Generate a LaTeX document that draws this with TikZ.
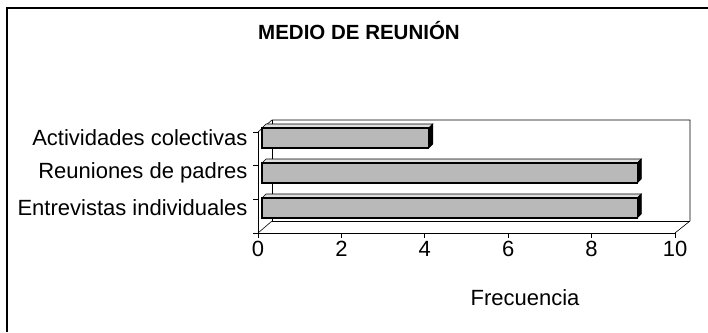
\documentclass[tikz,border=0pt]{standalone}
\usepackage{fontspec}
\setmainfont{Liberation Sans}
\usetikzlibrary{positioning}

\begin{document}
\begin{tikzpicture}[
    x=1pt, y=-1pt,
    axisline/.style={draw=black, line width=0.9pt},
    wall/.style={draw=black, line width=0.6pt},
    barface/.style={draw=black, line width=1.2pt, fill=gray!55},
    bartop/.style={draw=black, line width=0.6pt, fill=gray!25},
    barside/.style={draw=black, line width=0.6pt, fill=black},
    catlabel/.style={anchor=east, font=\fontsize{22}{25}\selectfont},
    ticklabel/.style={anchor=north, font=\fontsize{22}{25}\selectfont}
]
    \useasboundingbox (0,0) rectangle (708,332);

    % Frame
    \draw[line width=1.2pt] (7,332) -- (7,8) -- (708,8);

    % Title
    \node[font=\bfseries\fontsize{20.5}{23}\selectfont] (title) at (359,31) {MEDIO DE REUNIÓN};

    % Walls and floor
    \coordinate (o) at (258,233);
    \coordinate (xend) at (675,233);
    \coordinate (ytop) at (258,132);
    \coordinate (bo) at (272,221);
    \coordinate (bxend) at (690,221);
    \coordinate (bytop) at (272,120);
    \coordinate (bcorner) at (690,120);
    \draw[wall] (ytop) -- (bytop) -- (bcorner) -- (bxend) -- (xend);
    \draw[wall] (bytop) -- (bo) -- (bxend);
    \draw[wall] (o) -- (bo);
    \draw[axisline] (ytop) -- (o) -- (xend);

    % Axis ticks
    \foreach \v in {0,2,...,10} {
        \draw[axisline] (258+41.7*\v,233) -- (258+41.7*\v,238);
        \node[ticklabel] (t\v) at (258+41.7*\v,238) {\v};
    }
    \foreach \y in {132,165.7,199.3,233}
        \draw[axisline] (253,\y) -- (258,\y);

    % Bars
    \foreach \name/\y/\lab in {act/138/Actividades colectivas,
                               reu/173/Reuniones de padres,
                               ent/208/Entrevistas individuales} {
        \node[catlabel] (\name) at (251,\y) {\lab};
    }
    \foreach \val/\y in {4/138,9/173,9/208} {
        \draw[bartop] (262,\y-10) -- (266,\y-14) -- (262+41.7*\val+4,\y-14) -- (262+41.7*\val,\y-10) -- cycle;
        \draw[barside] (262+41.7*\val,\y-10) -- (262+41.7*\val+4,\y-14) -- (262+41.7*\val+4,\y+6) -- (262+41.7*\val,\y+10) -- cycle;
        \draw[barface] (262,\y-10) rectangle (262+41.7*\val,\y+10);
    }

    % Axis title
    \node[font=\fontsize{22}{25}\selectfont] (freq) at (525,298) {Frecuencia};
\end{tikzpicture}
\end{document}
